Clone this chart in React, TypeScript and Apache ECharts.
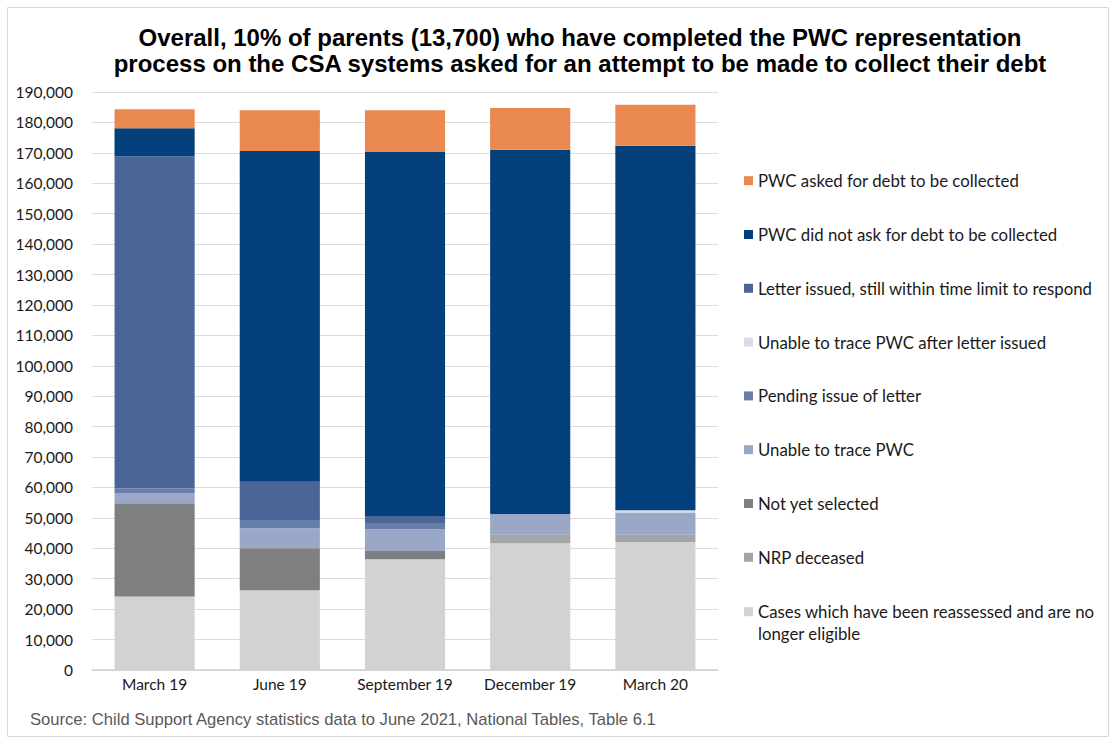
import React, { useEffect, useRef } from "react";
import * as echarts from "echarts";

const categories = ["March 19", "June 19", "September 19", "December 19", "March 20"];
const yTicks = [0, 10000, 190000];

const reassessed = [24200, 26200, 36400, 41700, 42100];
const nrpDeceased = [0, 0, 0, 2800, 2400];
const notYetSelected = [30600, 13800, 2700, 0, 0];
const unableToTrace = [3300, 6600, 7200, 6800, 7300];
const pendingLetter = [1600, 2700, 2000, 0, 0];
const unableAfterLetter = [0, 0, 0, 0, 700];
const letterIssued = [109200, 12600, 2300, 0, 0];
const didNotAsk = [9200, 108700, 119700, 119700, 119800];
const askedCollect = [6200, 13400, 13700, 13700, 13500];

const seriesNames = [
  "Cases which have been reassessed and are no longer eligible",
  "NRP deceased",
  "Not yet selected",
  "Unable to trace PWC",
  "Pending issue of letter",
  "Unable to trace PWC after letter issued",
  "Letter issued, still within time limit to respond",
  "PWC did not ask for debt to be collected",
  "PWC asked for debt to be collected",
];
const seriesValues = [
  reassessed,
  nrpDeceased,
  notYetSelected,
  unableToTrace,
  pendingLetter,
  unableAfterLetter,
  letterIssued,
  didNotAsk,
  askedCollect,
];
const seriesColors = [
  "#D0D2D4",
  "#A4A5A7",
  "#7E7F81",
  "#9AA7C7",
  "#677DAA",
  "#D8DEE8",
  "#4A6596",
  "#023F7B",
  "#E9884F",
];

export default function App() {
  const ref = useRef<HTMLDivElement>(null);
  useEffect(() => {
    if (!ref.current) return;
    const chart = echarts.init(ref.current, null, { renderer: "svg" });
    const labelFont = "Lato, 'Open Sans', sans-serif";
    const legendOrder = [...seriesNames].reverse();
    const legendText = {
      fontFamily: labelFont,
      fontSize: 16.8,
      lineHeight: 18,
      color: "#1a1a1a",
    };
    chart.setOption({
      animation: false,
      backgroundColor: "#ffffff",
      title: {
        text:
          "Overall, 10% of parents (13,700) who have completed the PWC representation\nprocess on the CSA systems asked for an attempt to be made to collect their debt",
        left: 575,
        top: 19,
        textAlign: "center",
        textStyle: {
          fontFamily: "'Liberation Sans', Arial, sans-serif",
          fontWeight: "bold",
          fontSize: 24,
          lineHeight: 26,
          color: "#000000",
        },
      },
      legend: [
        {
          orient: "vertical",
          left: 744,
          top: 171.7,
          padding: 0,
          itemWidth: 9,
          itemHeight: 9,
          itemGap: 35.8,
          icon: "rect",
          selectedMode: false,
          textStyle: legendText,
          data: legendOrder.slice(0, 8),
        },
        {
          orient: "vertical",
          left: 744,
          top: 578.7,
          padding: 0,
          itemWidth: 9,
          itemHeight: 9,
          icon: "rect",
          selectedMode: false,
          textStyle: { ...legendText, lineHeight: 22 },
          formatter: () =>
            " \nCases which have been reassessed and are no\nlonger eligible",
          data: [legendOrder[8]],
        },
      ],
      grid: {
        left: 92,
        top: 92,
        width: 626,
        height: 578,
        containLabel: false,
      },
      xAxis: {
        type: "category",
        data: categories,
        axisTick: { show: false },
        axisLine: { lineStyle: { color: "#CFCFCF", width: 1.5 } },
        axisLabel: {
          fontFamily: labelFont,
          fontSize: 15.5,
          color: "#1a1a1a",
          margin: 6,
        },
      },
      yAxis: {
        type: "value",
        min: yTicks[0],
        max: yTicks[2],
        interval: yTicks[1],
        axisLine: { show: false },
        axisTick: { show: false },
        splitLine: { lineStyle: { color: "#DCDCDC", width: 1.2 } },
        axisLabel: {
          fontFamily: labelFont,
          fontSize: 15.5,
          color: "#1a1a1a",
          margin: 19,
          formatter: (v: number) => v.toLocaleString("en-US"),
        },
      },
      series: seriesNames.map((name, i) => ({
        name,
        type: "bar",
        stack: "total",
        data: seriesValues[i],
        barCategoryGap: "36%",
        itemStyle: { color: seriesColors[i] },
        emphasis: { disabled: true },
      })),
      graphic: [
        {
          type: "rect",
          shape: { x: 7.5, y: 7.5, width: 1101, height: 729 },
          style: { fill: "none", stroke: "#D9D9D9", lineWidth: 1 },
          silent: true,
        },
        {
          type: "text",
          left: 30,
          top: 711,
          style: {
            text: "Source: Child Support Agency statistics data to June 2021, National Tables, Table 6.1",
            fontFamily: "'Liberation Sans', Arial, sans-serif",
            fontSize: 16.6,
            fill: "#595959",
          },
          silent: true,
        },
      ],
    });
    return () => chart.dispose();
  }, []);
  return (
    <div
      ref={ref}
      style={{ position: "fixed", left: 0, top: 0, width: 1117, height: 738 }}
    />
  );
}
